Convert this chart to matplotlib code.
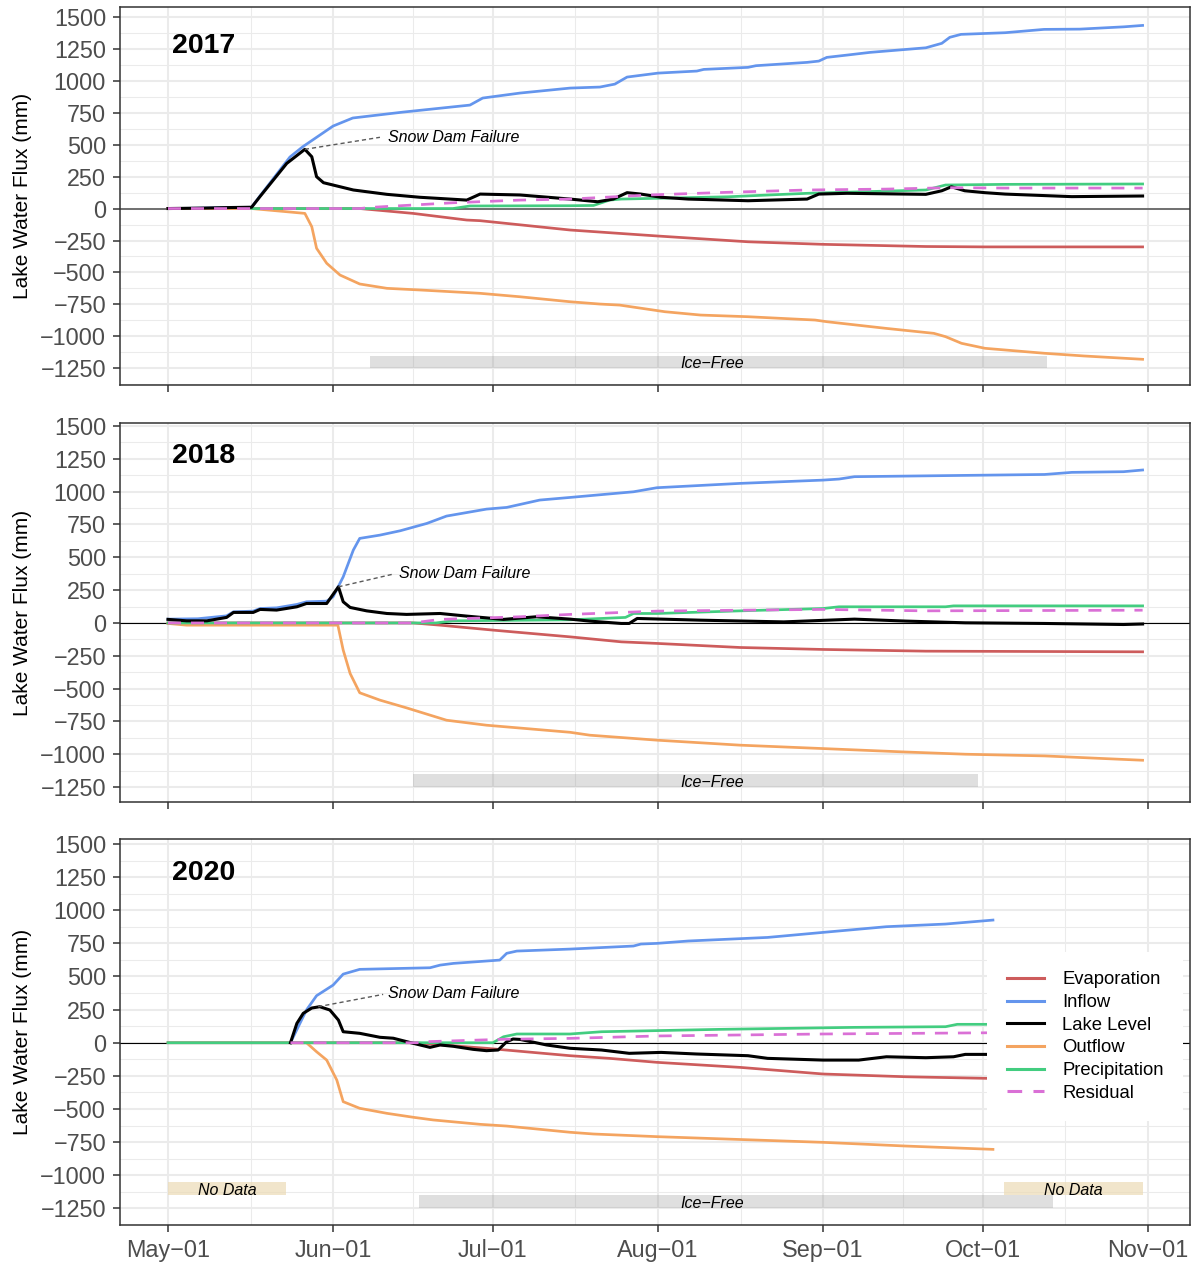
import numpy as np
import matplotlib
matplotlib.use("Agg")
import matplotlib.pyplot as plt
import matplotlib.dates as mdates
from matplotlib.lines import Line2D
from matplotlib.patches import Rectangle
from matplotlib.ticker import FixedLocator, FuncFormatter
import datetime as dt

plt.rcParams["font.family"] = ["Liberation Sans", "DejaVu Sans"]

# ---------------------------------------------------------------------------
# Cumulative lake water fluxes (mm). Day numbers count days since May 1.
# ---------------------------------------------------------------------------

# 2017
evap17_day = [0, 36.0, 46.0, 56.1, 58.6, 75.5, 92.0, 108.9, 123.0, 142.3, 153.4, 183]
evap17_mm = [0, 0, -38, -90, -95, -168, -215, -260, -280, -297, -300, -300]
infl17_day = [0, 6, 12, 15.7, 17.3, 22.9, 25.3, 31.0, 34.7, 44.1, 56.7, 59.1, 66.1, 75.5,
              81.1, 83.9, 86.2, 92.0, 99.3, 100.6, 108.9, 110.4, 120.0, 122.2, 123.7, 127.5,
              131.8, 142.3, 145.3, 146.8, 148.9, 157.2, 164.5, 171.2, 179.5, 183]
infl17_mm = [0, 3, 8, 10, 100, 403, 483, 645, 708, 754, 809, 864, 903, 942,
             950, 973, 1028, 1059, 1075, 1088, 1104, 1117, 1143, 1153, 1182, 1200,
             1221, 1257, 1292, 1339, 1362, 1375, 1401, 1403, 1421, 1432]
lake17_day = [0, 6, 12, 15.7, 17.3, 22.3, 25.7, 27.0, 27.9, 29.2, 34.8, 41.1, 47.3, 56.1,
              58.6, 66.1, 75.5, 80.7, 83.6, 86.2, 88.8, 92.6, 97.7, 108.9, 120.0, 122.2,
              127.5, 142.3, 145.3, 147.1, 149.6, 153.4, 157.2, 169.7, 183]
lake17_mm = [0, 3, 8, 10, 95, 353, 463, 405, 249, 202, 145, 111, 88, 66,
             113, 106, 74, 53, 74, 124, 113, 88, 74, 61, 74, 113,
             119, 111, 139, 170, 139, 124, 113, 93, 98]
outf17_day = [0, 15.7, 25.7, 27.0, 27.9, 29.8, 32.3, 36.0, 41.1, 47.3, 58.6, 66.1, 75.5,
              81.1, 84.8, 93.3, 100.0, 108.9, 121.5, 123.7, 134.8, 143.8, 146.0, 149.0,
              153.4, 164.6, 172.0, 183]
outf17_mm = [0, 0, -38, -142, -311, -428, -520, -590, -624, -637, -663, -690, -729,
             -747, -755, -807, -833, -846, -872, -885, -937, -976, -1002, -1054,
             -1093, -1132, -1153, -1179]
prec17_day = [15.7, 53.5, 56.7, 75.5, 79.9, 82.9, 85.1, 105.2, 120.0, 142.3, 146.0, 157.2, 183]
prec17_mm = [0, 0, 20, 22, 24, 66, 74, 92, 119, 145, 184, 189, 192]
resi17_day = [0, 36.0, 38.5, 53.5, 66.1, 75.5, 90.3, 105.1, 120.0, 134.8, 146.8, 157.2, 183]
resi17_mm = [0, 0, 10, 45, 66, 74, 106, 127, 145, 152, 163, 160, 160]

# 2018
evap18_day = [0, 46.0, 51.1, 61.1, 75.5, 85.1, 91.8, 107.4, 123.0, 142.3, 183]
evap18_mm = [0, 0, -17, -55, -106, -144, -156, -187, -202, -215, -220]
infl18_day = [0, 5.6, 11.0, 12.3, 16.0, 17.3, 20.4, 24.2, 26.0, 29.8, 31.0, 32.9, 34.8,
              36.0, 39.8, 43.6, 48.6, 52.3, 59.8, 63.6, 69.8, 75.5, 87.4, 91.8, 107.4,
              123.0, 126.0, 128.9, 149.7, 164.6, 169.7, 179.4, 183]
infl18_mm = [29, 32, 54, 85, 90, 110, 115, 141, 161, 166, 199, 351, 555,
             644, 669, 702, 758, 814, 867, 880, 936, 956, 999, 1030, 1063,
             1088, 1096, 1114, 1124, 1131, 1147, 1152, 1165]
lake18_day = [0, 3.5, 7.3, 11.0, 12.3, 16.0, 17.3, 20.4, 24.2, 26.0, 29.8, 32.0, 32.9,
              34.2, 37.3, 41.1, 44.8, 51.1, 56.1, 63.0, 69.2, 75.5, 79.2, 85.1, 86.6,
              88.1, 100.0, 115.6, 128.9, 138.6, 149.7, 164.6, 179.4, 183]
lake18_mm = [27, 16, 16, 42, 80, 80, 103, 98, 123, 148, 148, 275, 161,
             118, 92, 72, 65, 72, 52, 27, 47, 29, 14, -4, -4,
             34, 21, 8, 29, 14, 1, -4, -12, -8]
outf18_day = [0, 3.5, 31.9, 32.9, 34.2, 36.0, 39.8, 44.8, 52.3, 59.8, 75.5, 79.2, 91.8,
              107.4, 123.0, 137.8, 149.7, 164.6, 175.7, 183]
outf18_mm = [-4, -17, -17, -207, -385, -532, -588, -647, -741, -779, -833, -855, -893,
             -931, -957, -982, -1000, -1013, -1033, -1046]
prec18_day = [0, 50.3, 53.5, 75.5, 85.9, 87.4, 91.8, 107.4, 123.0, 126.0, 146.0, 147.5, 183]
prec18_mm = [0, 0, 16, 24, 42, 72, 72, 92, 110, 123, 123, 130, 130]
resi18_day = [0, 46.0, 51.1, 66.1, 75.5, 91.8, 107.4, 123.0, 142.3, 183]
resi18_mm = [0, 0, 27, 47, 65, 90, 97, 103, 92, 97]

# 2020
evap20_day = [0, 46.1, 59.8, 75.5, 82.9, 91.8, 107.4, 123.0, 138.6, 153.8]
evap20_mm = [0, 0, -42, -98, -118, -148, -186, -236, -257, -269]
infl20_day = [23.0, 26.0, 27.9, 31.0, 32.9, 36.0, 49.2, 51.1, 53.6, 62.3, 63.6, 65.5,
              75.5, 87.4, 88.8, 91.8, 97.7, 112.6, 123.0, 134.9, 146.0, 154.9]
infl20_mm = [0, 247, 355, 435, 518, 554, 566, 586, 599, 624, 675, 692,
             707, 730, 745, 750, 768, 795, 833, 876, 896, 926]
lake20_day = [23.0, 24.2, 25.4, 27.0, 28.5, 30.4, 32.0, 32.9, 36.0, 39.8, 42.3, 46.1,
              49.2, 51.1, 53.6, 57.3, 59.8, 62.0, 63.6, 64.8, 66.1, 71.1, 75.5, 81.4,
              86.6, 92.6, 99.2, 108.9, 112.6, 123.0, 129.7, 134.9, 142.3, 147.5, 149.7,
              153.8]
lake20_mm = [0, 146, 222, 262, 272, 247, 171, 83, 71, 41, 34, -5,
             -35, -17, -27, -50, -60, -55, 8, 28, 25, -17, -42, -55,
             -80, -73, -85, -98, -118, -131, -131, -106, -113, -106, -88,
             -88]
outf20_day = [23.0, 26.0, 27.9, 29.8, 31.7, 32.9, 36.0, 41.1, 46.1, 49.8, 58.6, 63.6,
              75.5, 79.9, 91.8, 123.0, 138.6, 154.9]
outf20_mm = [0, 0, -68, -131, -282, -445, -495, -533, -563, -583, -616, -629,
             -676, -689, -709, -752, -780, -805]
prec20_day = [0, 61.0, 63.0, 65.5, 75.5, 81.4, 103.6, 128.9, 146.0, 148.2, 153.8]
prec20_mm = [0, 0, 45, 66, 66, 83, 101, 116, 121, 139, 139]
resi20_day = [23.0, 46.7, 48.6, 63.0, 75.5, 91.8, 123.0, 153.8]
resi20_mm = [0, 0, 8, 26, 33, 51, 66, 75]

# Ice-free periods, snow-dam failure peaks and data gaps (day numbers)
years = ["2017", "2018", "2020"]
ice_free = [(37.9, 165.0), (46.0, 152.1), (47.1, 166.2)]
dam_peak = [(25.7, 463), (32.0, 275), (28.2, 272)]
no_data_2020 = [(0, 22.2), (157.0, 183.0)]

series_names = ["Evaporation", "Inflow", "Lake Level", "Outflow", "Precipitation", "Residual"]
series_colors = ["#CD5C5C", "#6495ED", "#000000", "#F4A460", "#43CD80", "#DA70D6"]

month_starts = [0, 31, 61, 92, 123, 153, 184]

# ---------------------------------------------------------------------------
SEASON0 = mdates.date2num(dt.datetime(2017, 5, 1))


def dnum(days):
    return SEASON0 + np.asarray(days, dtype=float)


def month_label(x, pos=None):
    d = mdates.num2date(x)
    return d.strftime("%b") + "\u2212" + d.strftime("%d")


panel_series = [
    {"Evaporation": (evap17_day, evap17_mm), "Inflow": (infl17_day, infl17_mm),
     "Lake Level": (lake17_day, lake17_mm), "Outflow": (outf17_day, outf17_mm),
     "Precipitation": (prec17_day, prec17_mm), "Residual": (resi17_day, resi17_mm)},
    {"Evaporation": (evap18_day, evap18_mm), "Inflow": (infl18_day, infl18_mm),
     "Lake Level": (lake18_day, lake18_mm), "Outflow": (outf18_day, outf18_mm),
     "Precipitation": (prec18_day, prec18_mm), "Residual": (resi18_day, resi18_mm)},
    {"Evaporation": (evap20_day, evap20_mm), "Inflow": (infl20_day, infl20_mm),
     "Lake Level": (lake20_day, lake20_mm), "Outflow": (outf20_day, outf20_mm),
     "Precipitation": (prec20_day, prec20_mm), "Residual": (resi20_day, resi20_mm)},
]

# layout in pixels (left, top, right, bottom)
W, H = 1193, 1263
boxes = [(120, 7, 1190, 385), (120, 423, 1190, 802), (120, 839, 1190, 1225)]
ylims = [(-1380, 1576), (-1364, 1523), (-1376, 1538)]
year_y = [1220, 1220, 1228]
label_pos = [((39.8, 557), (53.6, 522)), ((42.3, 372), (55.7, 339)), ((40.4, 365), (53.7, 335))]
zero_style = [("#5A5A5A", 1.2), ("#000000", 0.8), ("#000000", 0.8)]

fig = plt.figure(figsize=(W / 100, H / 100), dpi=100)
color_of = dict(zip(series_names, series_colors))
draw_order = ["Evaporation", "Inflow", "Outflow", "Precipitation", "Lake Level", "Residual"]

axes = []
for i, (x0, y0, x1, y1) in enumerate(boxes):
    ax = fig.add_axes([x0 / W, 1 - y1 / H, (x1 - x0) / W, (y1 - y0) / H])
    axes.append(ax)
    ax.set_xlim(dnum(-9.01), dnum(191.9))
    ax.set_ylim(*ylims[i])

    # grid
    yt = np.arange(-1250, 1501, 250)
    ax.yaxis.set_major_locator(FixedLocator(yt))
    ax.yaxis.set_minor_locator(FixedLocator(np.arange(-1375, 1600, 250)))
    ax.xaxis.set_major_locator(FixedLocator(dnum(month_starts)))
    mids = [(a + b) / 2 for a, b in zip(month_starts[:-1], month_starts[1:])]
    ax.xaxis.set_minor_locator(FixedLocator(dnum(mids)))
    ax.grid(which="major", color="#EBEBEB", lw=1.45, zorder=0)
    ax.grid(which="minor", color="#EBEBEB", lw=0.75, zorder=0)
    ax.set_axisbelow(True)

    ax.yaxis.set_major_formatter(FuncFormatter(lambda v, p: f"{v:.0f}".replace("-", "\u2212")))
    if i == 2:
        ax.xaxis.set_major_formatter(FuncFormatter(month_label))
    else:
        ax.xaxis.set_major_formatter(FuncFormatter(lambda v, p: ""))
    ax.tick_params(which="major", length=5, width=1.1, color="#333333",
                   labelcolor="#4D4D4D", labelsize=16.8, pad=5)
    ax.tick_params(which="minor", length=0)
    for sp in ax.spines.values():
        sp.set_color("#333333")
        sp.set_linewidth(1.1)
        sp.set_zorder(5)

    ax.set_ylabel("Lake Water Flux (mm)", fontsize=15, color="black")
    ax.yaxis.set_label_coords(-0.0825, 0.5)

    # zero line
    zc, zw = zero_style[i]
    ax.axhline(0, color=zc, lw=zw, zorder=1.8)

    # ice-free bar
    s, e = ice_free[i]
    ax.add_patch(Rectangle((dnum(s), -1250), e - s, 100, facecolor="#808080",
                           alpha=0.25, edgecolor="none", zorder=1.5))
    ax.text(dnum(102.2), -1212, "Ice\u2212Free", style="italic", fontsize=11.5,
            ha="center", va="center", zorder=2)

    if i == 2:
        for s, e in no_data_2020:
            ax.add_patch(Rectangle((dnum(s), -1150), e - s, 100, facecolor="#ECDBB5",
                                   alpha=0.7, edgecolor="none", zorder=1.5))
            ax.text(dnum((s + e) / 2), -1112, "No Data", style="italic", fontsize=11.5,
                    ha="center", va="center", zorder=2)

    # flux lines
    for name in draw_order:
        d, v = panel_series[i][name]
        if name == "Residual":
            ax.plot(dnum(d), v, color=color_of[name], lw=1.95, ls=(0, (4.8, 3.7)),
                    zorder=3.4, solid_capstyle="butt")
        elif name == "Lake Level":
            ax.plot(dnum(d), v, color=color_of[name], lw=2.2, zorder=3.2)
        else:
            ax.plot(dnum(d), v, color=color_of[name], lw=1.95, zorder=3)

    # year label
    ax.text(dnum(0.8), year_y[i], years[i], fontsize=20.5, fontweight="bold",
            ha="left", va="baseline", zorder=4)

    # snow dam failure annotation
    pk = dam_peak[i]
    (ex, ey), (tx, ty) = label_pos[i]
    ax.plot(dnum([pk[0], ex]), [pk[1], ey], color="#595959", lw=1.0,
            ls=(0, (3, 2.2)), zorder=3.5)
    ax.text(dnum(tx), ty, "Snow Dam Failure", style="italic", fontsize=11.5,
            ha="center", va="baseline", zorder=4)

# legend
handles = []
for name, col in zip(series_names, series_colors):
    if name == "Residual":
        handles.append(Line2D([], [], color=col, lw=2.2, ls=(0, (4.8, 3.7))))
    else:
        handles.append(Line2D([], [], color=col, lw=2.2))
leg = axes[2].legend(handles, series_names, loc="center", bbox_to_anchor=(0.902, 0.488),
                     frameon=True, fancybox=False, facecolor="white", edgecolor="none",
                     framealpha=1, fontsize=13.3, handlelength=2.0, handletextpad=1.0,
                     labelspacing=0.31, borderpad=1.05)
leg.set_zorder(6)

fig.savefig("out.png", dpi=100)
